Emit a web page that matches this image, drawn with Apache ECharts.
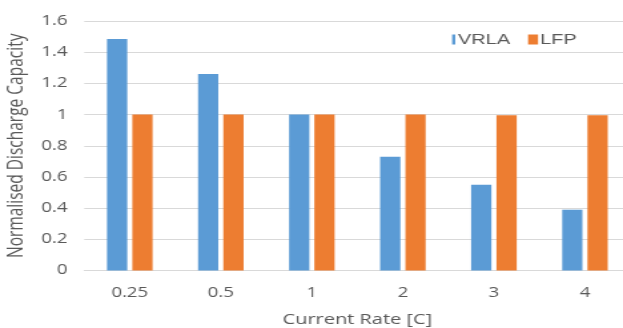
<!DOCTYPE html>
<html>
<head>
<meta charset="utf-8">
<script src="https://cdn.jsdelivr.net/npm/echarts@6/dist/echarts.min.js"></script>
<style>
  html, body { margin: 0; padding: 0; background: #fff; overflow: hidden; }
  /* the figure is drawn narrow, then widened to the 623px frame */
  #chart { width: 468px; height: 328px; transform: scaleX(1.3312); transform-origin: 0 0; }
</style>
</head>
<body>
<div id="chart"></div>
<script>
// Discharge capacity per C-rate, normalised to the 1C value
const categories = ['0.25', '0.5', '1', '2', '3', '4'];
const vrla = [1.485, 1.26, 1.0, 0.73, 0.55, 0.39];
const lfp = [1.0, 1.0, 1.0, 1.0, 0.995, 0.995];
const yTicks = { min: 0, max: 1.6, interval: 0.2 };

const textColor = '#595959';
const font = '"Open Sans", sans-serif';
const legendFont = '"Liberation Sans", Arial, sans-serif';

const chart = echarts.init(document.getElementById('chart'), null, { renderer: 'canvas' });
chart.setOption({
  animation: false,
  backgroundColor: '#ffffff',
  textStyle: { fontFamily: font },
  grid: {
    left: 63.3, right: -5.6, top: 21, bottom: 57.5,
    containLabel: false, outerBoundsMode: 'none'
  },
  legend: [
    {
      left: 334.6, top: 27, padding: 5,
      itemWidth: 2.4, itemHeight: 10,
      textStyle: { color: textColor, fontSize: 15, fontFamily: legendFont, padding: [0, 0, 0, -3] },
      data: [{ name: 'VRLA', icon: 'rect' }]
    },
    {
      left: 391.7, top: 27, padding: 5,
      itemWidth: 7.5, itemHeight: 10,
      textStyle: { color: textColor, fontSize: 15, fontFamily: legendFont, padding: [0, 0, 0, -3.5] },
      data: [{ name: 'LFP', icon: 'rect' }]
    }
  ],
  xAxis: {
    type: 'category',
    data: categories,
    name: 'Current Rate [C]',
    nameLocation: 'middle',
    nameGap: 42,
    nameTextStyle: { color: textColor, fontSize: 15, fontFamily: font },
    axisTick: { show: false },
    axisLine: { lineStyle: { color: '#d9d9d9', width: 1 } },
    axisLabel: { color: textColor, fontSize: 14, margin: 16, fontFamily: font }
  },
  yAxis: {
    type: 'value',
    min: yTicks.min,
    max: yTicks.max,
    interval: yTicks.interval,
    name: 'Normalised Discharge Capacity',
    nameLocation: 'middle',
    nameGap: 38,
    nameTextStyle: { color: textColor, fontSize: 15.5, fontFamily: font },
    axisLine: { show: false },
    axisTick: { show: false },
    axisLabel: {
      color: textColor, fontSize: 14, margin: 12.5, fontFamily: font,
      formatter: v => String(Math.round(v * 10) / 10)
    },
    splitLine: { lineStyle: { color: '#d9d9d9', width: 1 } }
  },
  series: [
    {
      name: 'VRLA', type: 'bar', data: vrla,
      barWidth: 15.2, barGap: '25%',
      itemStyle: { color: '#5b9bd5' }
    },
    {
      name: 'LFP', type: 'bar', data: lfp,
      barWidth: 15.2,
      itemStyle: { color: '#ed7d31' }
    }
  ]
});
</script>
</body>
</html>
